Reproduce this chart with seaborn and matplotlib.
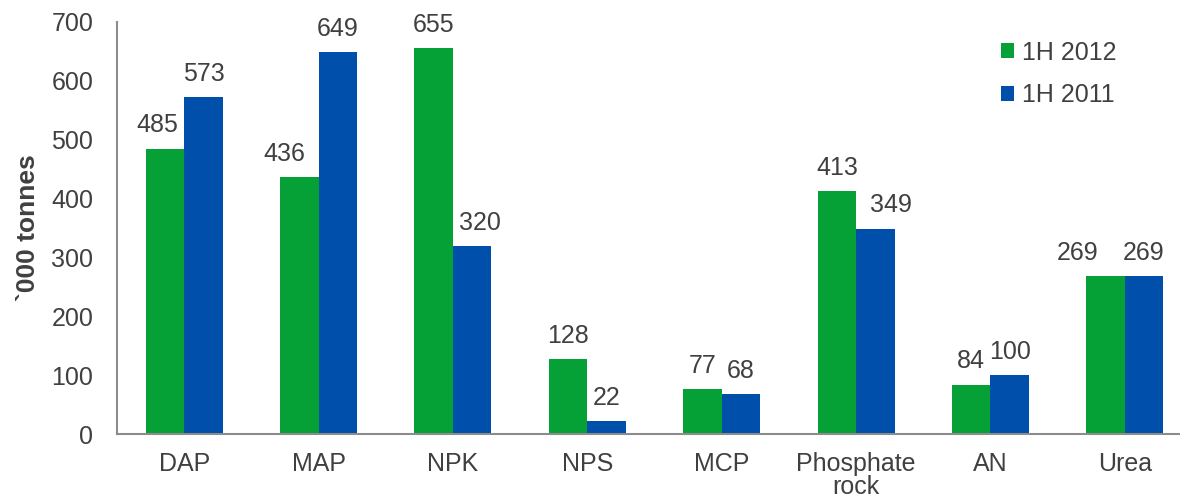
import pandas as pd
import matplotlib
matplotlib.use('Agg')
import matplotlib.pyplot as plt
import seaborn as sns

categories = ['DAP', 'MAP', 'NPK', 'NPS', 'MCP', 'Phosphate\nrock', 'AN', 'Urea']
series_names = ['1H 2012', '1H 2011']
values_2012 = [485, 436, 655, 128, 77, 413, 84, 269]
values_2011 = [573, 649, 320, 22, 68, 349, 100, 269]

# sideways nudge of the value labels (pixels), as placed in the original
label_shift_2012 = [-8, -15, 0, 0, 0, 0, 0, -28]
label_shift_2011 = [0, 0, 8, 0, 0, 16, 0, 0]

df = pd.DataFrame({
    'product': categories * 2,
    'period': [series_names[0]] * len(categories) + [series_names[1]] * len(categories),
    'tonnes': values_2012 + values_2011,
})

sns.set_style('white')
plt.rcParams['font.family'] = ['Liberation Sans', 'DejaVu Sans']
text_col = '#404040'

fig = plt.figure(figsize=(11.8, 4.99), dpi=100)
ax = fig.add_axes([117 / 1180, 65 / 499, 1075 / 1180, 412 / 499])

sns.barplot(data=df, x='product', y='tonnes', hue='period', order=categories,
            hue_order=series_names, palette=['#05A036', '#004FAA'], saturation=1,
            width=0.573, gap=0, edgecolor='none', ax=ax)

px2pt = 72 / fig.dpi
for cont, shifts in zip(ax.containers, [label_shift_2012, label_shift_2011]):
    texts = ax.bar_label(cont, fmt='%d', padding=8, fontsize=18, color=text_col)
    for t, dx in zip(texts, shifts):
        t.xyann = (dx * px2pt, 8)

ax.set_ylim(0, 700)
ax.set_xlim(-0.5, 7.5)
ax.set_yticks(range(0, 701, 100))
ax.tick_params(axis='both', length=0, labelsize=18, colors=text_col)
ax.tick_params(axis='y', pad=17)
ax.tick_params(axis='x', pad=13)
for lab in ax.get_xticklabels():
    lab.set_linespacing(0.95)
ax.set_xlabel('')
ax.set_ylabel('`000 tonnes', fontsize=19, fontweight='bold', color=text_col, labelpad=8)

sns.despine(ax=ax, top=True, right=True)
for s in ['left', 'bottom']:
    ax.spines[s].set_color('#8c8c8c')
    ax.spines[s].set_linewidth(1.5)

leg = ax.legend(loc='upper left', bbox_to_anchor=(978 / 1180, 481 / 499),
                bbox_transform=fig.transFigure, frameon=False,
                fontsize=18, handlelength=0.55, handleheight=0.55, handletextpad=0.3,
                labelspacing=0.75)
for t in leg.get_texts():
    t.set_color(text_col)

fig.savefig('out.png', dpi=100)
